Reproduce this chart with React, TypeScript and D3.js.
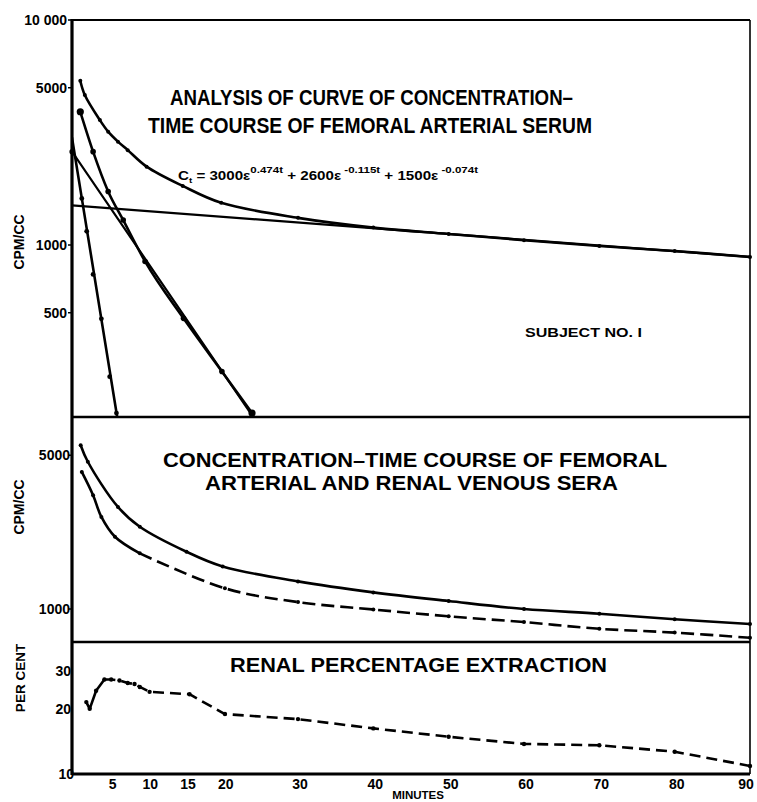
import React from 'react';
import * as d3 from 'd3';

// ---- data (t in minutes) ----
// top panel: femoral arterial serum, cpm/cc
const totalT = [1.1, 1.7, 3.7, 4.8, 6.1, 7.4, 9.9, 14.7, 19.8, 30, 40, 50, 60, 70, 80, 90];
const totalV = [5370, 4640, 3590, 3190, 2880, 2640, 2230, 1830, 1540, 1320, 1195, 1120, 1050, 990, 940, 885];
// curve after subtracting the slow component
const diffT = [1.1, 2.8, 4.8, 6.8, 9.7, 14.8, 19.9, 23.9];
const diffV = [3910, 2600, 1730, 1290, 845, 472, 274, 179];
// residual after subtracting the two slower components
const fastT = [1.3, 1.95, 2.8, 3.9, 5.0, 5.9];
const fastV = [1610, 1150, 740, 470, 260, 179];
// fitted straight lines (end points)
const fastLineT = [0, 6.0];
const fastLineV = [3000, 172];
const midLineT = [0, 23.9];
const midLineV = [2600, 175];
const slowLineT = [0, 90];
const slowLineV = [1500, 885];

// middle panel: arterial vs renal venous
const arterialT = [1.15, 2.1, 6.1, 9, 15.2, 20, 30, 40, 50, 60, 70, 80, 90];
const arterialV = [5550, 4670, 2910, 2365, 1820, 1560, 1335, 1190, 1087, 1000, 952, 898, 855];
const venousT = [1.3, 2.8, 3.9, 5.7, 9, 20.3, 30, 40, 50, 60, 70, 80, 90];
const venousV = [4200, 3290, 2620, 2130, 1790, 1242, 1075, 995, 926, 872, 813, 781, 740];

// bottom panel: renal percentage extraction
const extractT = [1.9, 2.35, 3.2, 4.3, 5.2, 6.3, 7.4, 8.3, 9, 10.3, 15.6, 20.3, 30, 40, 50, 60, 70, 80, 90];
const extractV = [21.6, 20.1, 24.4, 27.5, 27.5, 27.2, 26.5, 26.2, 25.4, 24.1, 23.5, 19.0, 18.0, 16.3, 14.9, 13.8, 13.6, 12.7, 10.9];

const xTicks = [5, 10, 15, 20, 30, 40, 50, 60, 70, 80, 90];
const topTicks = [10000, 5000, 1000, 500];
const topTickLabels = ['10 000', '5000', '1000', '500'];
const midTicks = [5000, 1000];
const botTicks = [30, 20, 10];

// ---- layout ----
const W = 757;
const H = 802;
const X0 = 72;
const X1 = 750;
const TOP = [20, 417];
const MID = [417, 642];
const BOT = [642, 774];

const x = d3.scaleLinear().domain([0, 90]).range([X0, X1]);
const yTop = d3.scaleLog().domain([1000, 10000]).range([245, 20]);
const yMid = d3.scaleLog().domain([1000, 10000]).range([609, 609 - 220]);
const yBot = d3.scaleLog().domain([10, 100]).range([774, 774 - 215]);

type P = [number, number];
const zip = (ts: number[], vs: number[]): P[] => ts.map((t, i) => [t, vs[i]] as P);

const pathOf = (pts: P[], y: d3.ScaleLogarithmic<number, number>, curve: d3.CurveFactory = d3.curveLinear) =>
  d3.line<P>().x(d => x(d[0])).y(d => y(d[1])).curve(curve)(pts) || '';

const FONT = '"Liberation Sans", Arial, sans-serif';

const Dots: React.FC<{ pts: P[]; y: d3.ScaleLogarithmic<number, number>; r?: number }> = ({ pts, y, r = 2.2 }) => (
  <g>
    {pts.map((d, i) => (
      <circle key={i} cx={x(d[0])} cy={y(d[1])} r={r} fill="#000" />
    ))}
  </g>
);

export default function App() {
  const total = zip(totalT, totalV);
  const diff = zip(diffT, diffV);
  const fast = zip(fastT, fastV);
  const arterial = zip(arterialT, arterialV);
  const venous = zip(venousT, venousV);
  const extract = zip(extractT, extractV);

  const venousSolid = venous.filter(d => d[0] <= 9);
  const venousDash = venous.filter(d => d[0] >= 9);
  const extractSolid = extract.filter(d => d[0] <= 4.3);
  const extractDash = extract.filter(d => d[0] >= 4.3);

  const smooth = d3.curveCatmullRom.alpha(0.5);
  const lineStyle = { fill: 'none', stroke: '#000', strokeWidth: 2.6, strokeLinejoin: 'round' as const, strokeLinecap: 'round' as const };

  return (
    <svg width={W} height={H} viewBox={`0 0 ${W} ${H}`} style={{ position: 'absolute', left: 0, top: 0, background: '#fff' }}>
      <defs>
        <clipPath id="cTop"><rect x={X0} y={TOP[0]} width={X1 - X0} height={TOP[1] - TOP[0]} /></clipPath>
        <clipPath id="cMid"><rect x={X0} y={MID[0]} width={X1 - X0} height={MID[1] - MID[0]} /></clipPath>
        <clipPath id="cBot"><rect x={X0} y={BOT[0]} width={X1 - X0} height={BOT[1] - BOT[0]} /></clipPath>
      </defs>
      <rect x={0} y={0} width={W} height={H} fill="#fff" />

      {/* frame */}
      <line x1={X0} y1={TOP[0]} x2={X1} y2={TOP[0]} stroke="#000" strokeWidth={2.2} />
      <line x1={X0} y1={TOP[0] - 1} x2={X0} y2={BOT[1] + 1} stroke="#000" strokeWidth={3.2} />
      <line x1={X1} y1={TOP[0]} x2={X1} y2={BOT[1]} stroke="#000" strokeWidth={1.6} />
      <line x1={X0} y1={TOP[1]} x2={X1} y2={TOP[1]} stroke="#000" strokeWidth={2.4} />
      <line x1={X0} y1={MID[1]} x2={X1} y2={MID[1]} stroke="#000" strokeWidth={2.4} />
      <line x1={X0} y1={BOT[1]} x2={X1} y2={BOT[1]} stroke="#000" strokeWidth={3} />

      {/* top panel */}
      <g clipPath="url(#cTop)">
        <path d={pathOf(total, yTop, smooth)} {...lineStyle} />
        <path d={pathOf(zip(slowLineT, slowLineV), yTop)} {...lineStyle} strokeWidth={2.2} />
        <path d={pathOf(zip(midLineT, midLineV), yTop)} {...lineStyle} strokeWidth={2.2} />
        <path d={pathOf(diff, yTop, d3.curveMonotoneX)} {...lineStyle} />
        <path d={pathOf(zip(fastLineT, fastLineV), yTop)} {...lineStyle} />
      </g>
      <Dots pts={total} y={yTop} r={2} />
      <Dots pts={diff.slice(1, -1)} y={yTop} r={2.8} />
      <Dots pts={[diff[0], diff[diff.length - 1]]} y={yTop} r={3.6} />
      <Dots pts={fast} y={yTop} r={2.4} />
      <Dots pts={[[midLineT[0], midLineV[0]]]} y={yTop} r={2.6} />

      {/* middle panel */}
      <g clipPath="url(#cMid)">
        <path d={pathOf(arterial, yMid, smooth)} {...lineStyle} />
        <path d={pathOf(venousSolid, yMid, smooth)} {...lineStyle} />
        <path d={pathOf(venousDash, yMid, smooth)} {...lineStyle} strokeLinecap="butt" strokeDasharray="13,6" />
      </g>
      <Dots pts={arterial} y={yMid} r={2} />
      <Dots pts={venous} y={yMid} r={2} />

      {/* bottom panel */}
      <g clipPath="url(#cBot)">
        <path d={pathOf(extractSolid, yBot)} {...lineStyle} />
        <path d={pathOf(extractDash, yBot)} {...lineStyle} strokeLinecap="butt" strokeDasharray="11,6" />
      </g>
      <Dots pts={extract} y={yBot} r={2.2} />

      {/* y tick labels */}
      <g fontFamily={FONT} fontWeight="bold" fontSize={14} fill="#000" textAnchor="end">
        {topTicks.map((v, i) => (
          <g key={'t' + v}>
            <line x1={X0 - 4} x2={X0} y1={yTop(v)} y2={yTop(v)} stroke="#000" strokeWidth={1.5} />
            <text x={67} y={yTop(v) + 5}>{topTickLabels[i]}</text>
          </g>
        ))}
        {midTicks.map(v => (
          <g key={'m' + v}>
            <line x1={X0 - 4} x2={X0} y1={yMid(v)} y2={yMid(v)} stroke="#000" strokeWidth={1.5} />
            <text x={70} y={yMid(v) + 5}>{v}</text>
          </g>
        ))}
        {botTicks.map(v => (
          <text key={'b' + v} x={v === 10 ? 74 : 71} y={yBot(v) + 5}>{v}</text>
        ))}
      </g>

      {/* x tick labels */}
      <g fontFamily={FONT} fontWeight="bold" fontSize={14} fill="#000" textAnchor="middle">
        {xTicks.map(t => (
          <text key={t} x={t === 90 ? x(t) - 4 : x(t) + (t <= 20 ? 3 : 2)} y={789}>{t}</text>
        ))}
        <text x={418} y={799} fontSize={11.5}>MINUTES</text>
      </g>

      {/* axis titles */}
      <g fontFamily={FONT} fontWeight="bold" fill="#000" textAnchor="middle">
        <text transform="translate(24,242) rotate(-90)" fontSize={14}>CPM/CC</text>
        <text transform="translate(24,507) rotate(-90)" fontSize={14}>CPM/CC</text>
        <text transform="translate(25,678) rotate(-90)" fontSize={13.5}>PER CENT</text>
      </g>

      {/* titles */}
      <g fontFamily={FONT} fontWeight="bold" fill="#000">
        <text x={170} y={105} fontSize={22} textLength={403} lengthAdjust="spacingAndGlyphs">ANALYSIS OF CURVE OF CONCENTRATION–</text>
        <text x={148} y={133} fontSize={22} textLength={444} lengthAdjust="spacingAndGlyphs">TIME COURSE OF FEMORAL ARTERIAL SERUM</text>
        <text x={163} y={467} fontSize={21} textLength={504} lengthAdjust="spacingAndGlyphs">CONCENTRATION–TIME COURSE OF FEMORAL</text>
        <text x={205} y={490} fontSize={21} textLength={413} lengthAdjust="spacingAndGlyphs">ARTERIAL AND RENAL VENOUS SERA</text>
        <text x={230} y={672} fontSize={21} textLength={377} lengthAdjust="spacingAndGlyphs">RENAL PERCENTAGE EXTRACTION</text>
        <text x={525} y={337} fontSize={12} textLength={117} lengthAdjust="spacingAndGlyphs">SUBJECT NO. I</text>
      </g>

      {/* equation */}
      <text x={178} y={180} fontFamily={FONT} fontWeight="bold" fontSize={12.5} fill="#000" textLength={300} lengthAdjust="spacingAndGlyphs">
        <tspan>C</tspan>
        <tspan fontSize={8} dy={3}>t</tspan>
        <tspan dy={-3}> = 3000ε</tspan>
        <tspan fontSize={9.5} dy={-7}>0.474t</tspan>
        <tspan dy={7}> + 2600ε</tspan>
        <tspan fontSize={9.5} dy={-7}> -0.115t</tspan>
        <tspan dy={7}> + 1500ε</tspan>
        <tspan fontSize={9.5} dy={-7}> -0.074t</tspan>
      </text>
    </svg>
  );
}
